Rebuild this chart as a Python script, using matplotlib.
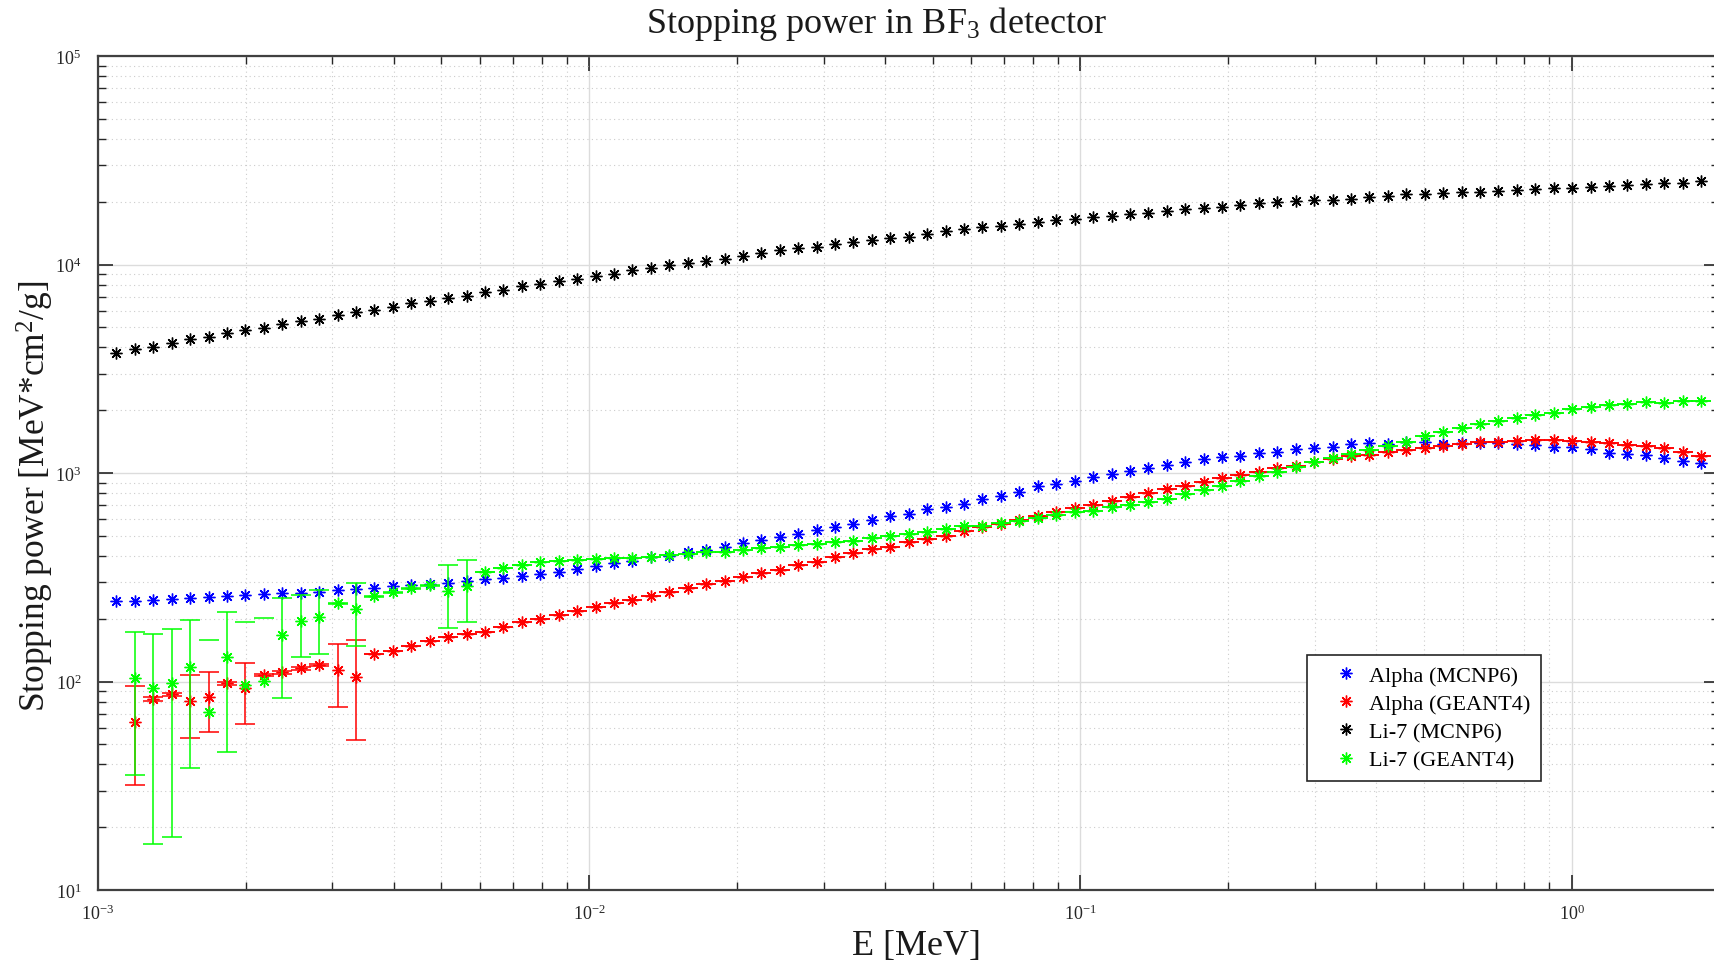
import numpy as np
import matplotlib
matplotlib.use("Agg")
import matplotlib.pyplot as plt
from matplotlib.lines import Line2D
from matplotlib.ticker import LogLocator, NullFormatter

plt.rcParams['font.family'] = ['Liberation Serif', 'DejaVu Serif']
plt.rcParams['mathtext.fontset'] = 'custom'
plt.rcParams['mathtext.rm'] = 'Liberation Serif'
plt.rcParams['mathtext.it'] = 'Liberation Serif:italic'
plt.rcParams['mathtext.bf'] = 'Liberation Serif:bold'
plt.rcParams['mathtext.default'] = 'regular'

# ---------------- data ----------------
# energy grid (keV), evenly spaced in log
E_keV = [1.090, 1.189, 1.296, 1.413, 1.540, 1.679, 1.831, 1.996, 2.176, 2.372,
         2.586, 2.820, 3.074, 3.351, 3.653, 3.983, 4.342, 4.734, 5.161, 5.627,
         6.134, 6.688, 7.291, 7.949, 8.666, 9.448, 10.30, 11.23, 12.24, 13.35,
         14.55, 15.86, 17.30, 18.86, 20.55, 22.41, 24.43, 26.63, 29.04, 31.66,
         34.51, 37.62, 41.02, 44.72, 48.75, 53.15, 57.95, 63.18, 68.89, 75.09,
         81.87, 89.25, 97.30, 106.1, 115.7, 126.1, 137.5, 149.9, 163.4, 178.1,
         194.2, 211.7, 230.8, 251.6, 274.3, 299.0, 326.1, 355.5, 387.6, 422.5,
         460.6, 502.1, 547.5, 596.9, 650.7, 709.4, 773.4, 843.2, 919.1, 1002,
         1093, 1191, 1299, 1416, 1543, 1683, 1834]

alpha_mcnp = [242, 242, 246, 250, 252, 253, 256, 259, 262, 265,
              267, 270, 274, 277, 282, 288, 291, 293, 296, 302,
              310, 312, 321, 327, 336, 346, 359, 370, 379, 394,
              401, 416, 428, 444, 461, 476, 494, 509, 532, 548,
              568, 596, 619, 635, 671, 688, 714, 749, 777, 812,
              862, 884, 917, 952, 987, 1017, 1051, 1090, 1123, 1165,
              1195, 1208, 1244, 1262, 1301, 1315, 1334, 1370, 1390, 1385,
              1405, 1401, 1380, 1400, 1400, 1395, 1370, 1359, 1334, 1334,
              1301, 1254, 1240, 1217, 1174, 1139, 1114]

li7_mcnp = [3782, 3953, 4040, 4222, 4379, 4492, 4679, 4836, 4961, 5186,
            5343, 5506, 5727, 5901, 6079, 6256, 6516, 6683, 6887, 7063,
            7355, 7546, 7886, 8098, 8307, 8559, 8810, 9046, 9409, 9663,
            9913, 10210, 10390, 10670, 10980, 11400, 11700, 11960, 12090, 12540,
            12880, 13060, 13460, 13610, 14070, 14470, 14750, 15120, 15290, 15580,
            16060, 16290, 16470, 16890, 17150, 17400, 17600, 17990, 18390, 18600,
            18870, 19370, 19650, 19930, 20160, 20380, 20450, 20700, 21070, 21300,
            21710, 21800, 22120, 22320, 22350, 22560, 22880, 22930, 23190, 23250,
            23520, 23890, 23950, 24420, 24690, 24720, 25050]

# GEANT4 series start at the second energy point
alpha_g4 = [63.7, 82.4, 87.0, 80.8, 84.5, 97.9, 92.7, 107.3, 110.6, 115.6,
            120.2, 113.4, 105.3, 135.3, 140.3, 148.3, 156.7, 162.7, 168.7, 173.1,
            182.7, 192.0, 199.2, 208.1, 218.3, 226.6, 236.8, 246.4, 257.6, 267.4,
            279.5, 293.1, 301.9, 315.5, 329.7, 343.1, 361.4, 374.8, 393.5, 411.3,
            431.2, 442.3, 464.3, 481.6, 499.5, 527.8, 548.0, 568.4, 598.0, 622.8,
            646.6, 675.7, 700.8, 734.9, 768.2, 797.5, 836.3, 867.4, 900.6, 944.3,
            976.1, 1012, 1051, 1081, 1123, 1165, 1200, 1217, 1262, 1283,
            1313, 1349, 1374, 1401, 1410, 1425, 1436, 1436, 1425, 1410,
            1390, 1359, 1349, 1311, 1262, 1208]
alpha_g4_err = [31.8, 1.5, 1.5, 27.0, 27.0, 1.5, 30.0, 1.5, 1.5, 1.5,
                1.5, 38.0, 53.0] + [0.0] * 73

li7_g4 = [103.8, 92.7, 97.9, 117.6, 71.1, 130.5, 96.4, 100.8, 166.9, 195.4,
          204.3, 236.8, 222.4, 255.9, 267.4, 280.4, 289.9, 272.1, 287.6, 333.4,
          350.0, 362.6, 372.3, 379.0, 383.3, 385.0, 389.0, 392.0, 396.2, 403.6,
          408.1, 415.8, 418.5, 426.4, 434.5, 444.1, 450.6, 455.6, 464.3, 472.5,
          485.3, 499.5, 508.9, 522.0, 537.8, 554.1, 557.8, 572.8, 591.6, 605.2,
          627.6, 646.6, 658.2, 683.3, 700.8, 722.1, 748.9, 791.4, 827.0, 867.4,
          916.6, 962.1, 1012, 1063, 1123, 1174, 1231, 1290, 1349, 1405,
          1506, 1569, 1643, 1713, 1778, 1845, 1899, 1950, 2022, 2084,
          2113, 2154, 2192, 2178, 2216, 2216]
li7_g4_err = [68.0, 76.0, 80.0, 79.0, 87.0, 84.5, 97.0, 101.0, 83.5, 64.0,
              69.0, 1.5, 75.0, 1.5, 1.5, 1.5, 1.5, 91.0, 95.0] + [0.0] * 67

labels = ['Alpha (MCNP6)', 'Alpha (GEANT4)', 'Li-7 (MCNP6)', 'Li-7 (GEANT4)']
colors = ['#0000ff', '#ff0000', '#000000', '#00ff00']

# ---------------- figure ----------------
W, H = 1715, 970
fig = plt.figure(figsize=(W / 100, H / 100), dpi=100)
ax_l, ax_r, ax_t, ax_b = 98, 1719.5, 57, 891
ax = fig.add_axes([ax_l / W, 1 - ax_b / H, (ax_r - ax_l) / W, (ax_b - ax_t) / H])

E = np.array(E_keV) / 1000.0
AST = (8, 2, 0)
MS = 8.5
MEW = 1.0
CAP = 7.2
ELW = 1.1


def plot_plain(x, y, color):
    ax.plot(x, y, ls='none', marker=AST, ms=MS, mew=MEW, color=color, zorder=3)


def plot_err(x, y, err, color):
    x = np.asarray(x); y = np.asarray(y); err = np.asarray(err)
    ok = (y - err) > 0
    ax.errorbar(x[ok], y[ok], yerr=err[ok], fmt='none', ecolor=color,
                elinewidth=ELW, capsize=CAP, capthick=ELW, zorder=3)
    # lower bound non-positive: only the upper cap survives on the log axis
    ax.plot(x[~ok], (y + err)[~ok], ls='none', marker='_', ms=2 * CAP,
            mew=ELW, color=color, zorder=3)
    ax.plot(x, y, ls='none', marker=AST, ms=MS, mew=MEW, color=color, zorder=3)


plot_plain(E, alpha_mcnp, colors[0])
plot_err(E[1:], alpha_g4, alpha_g4_err, colors[1])
plot_plain(E, li7_mcnp, colors[2])
plot_err(E[1:], li7_g4, li7_g4_err, colors[3])

ax.set_xscale('log')
ax.set_yscale('log')
ax.set_xlim(1e-3, 2)
ax.set_ylim(10, 1e5)

ax.xaxis.set_major_locator(LogLocator(base=10, numticks=10))
ax.xaxis.set_minor_locator(LogLocator(base=10, subs=np.arange(2, 10), numticks=20))
ax.yaxis.set_major_locator(LogLocator(base=10, numticks=10))
ax.yaxis.set_minor_locator(LogLocator(base=10, subs=np.arange(2, 10), numticks=20))
ax.xaxis.set_minor_formatter(NullFormatter())
ax.yaxis.set_minor_formatter(NullFormatter())

ax.grid(True, which='major', color='#dcdcdc', lw=1.0, ls='-', zorder=0)
ax.grid(True, which='minor', color='#cccccc', lw=0.8, ls=(0, (1, 3)), zorder=0)
ax.set_axisbelow(True)

ax.tick_params(which='both', direction='in', top=True, right=True,
               color='#262626', labelsize=13, labelcolor='#262626')
ax.tick_params(which='major', length=10.5, width=1.2)
ax.tick_params(which='minor', length=6, width=1.0)
ax.tick_params(axis='y', which='major', pad=12)
ax.tick_params(axis='x', which='major', pad=10)
for s in ax.spines.values():
    s.set_color('#404040')
    s.set_linewidth(1.6)

ax.set_xlabel('E [MeV]', fontsize=26, color='#1a1a1a', va='center')
ax.xaxis.set_label_coords((916 - ax_l) / (ax_r - ax_l), (ax_b - 947) / (ax_b - ax_t))
ax.set_ylabel('Stopping power [MeV*cm$^2$/g]', fontsize=25.5, color='#1a1a1a', va='center')
ax.yaxis.set_label_coords((35 - ax_l) / (ax_r - ax_l), (ax_b - 496) / (ax_b - ax_t))

fig.text(876.5 / W, 1 - 24 / H, 'Stopping power in BF$_3$ detector',
         fontsize=26, ha='center', va='center', color='#1a1a1a')

handles = [Line2D([], [], ls='none', marker=AST, ms=MS, mew=MEW, color=c) for c in colors]
leg = ax.legend(handles, labels, loc='upper left',
                bbox_to_anchor=((1307 - ax_l) / (ax_r - ax_l), (ax_b - 656) / (ax_b - ax_t)),
                borderaxespad=0, fontsize=16, frameon=True, fancybox=False,
                framealpha=1, edgecolor='#262626', borderpad=0.45,
                handlelength=2.6, handletextpad=-0.25, labelspacing=0.35)
leg.get_frame().set_linewidth(1.2)

fig.savefig('out.png', dpi=100)
